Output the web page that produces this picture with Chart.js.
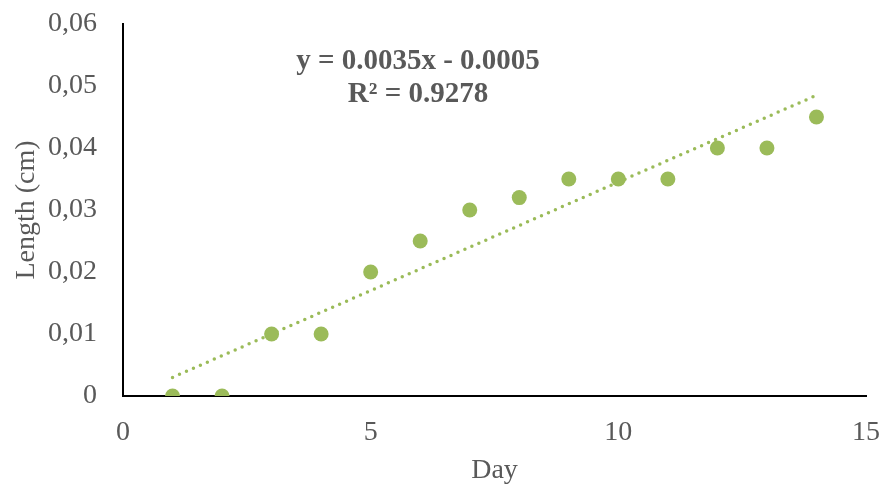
<!DOCTYPE html>
<html>
<head>
<meta charset="utf-8">
<script src="https://cdn.jsdelivr.net/npm/chart.js@4"></script>
<style>
  html, body { margin: 0; padding: 0; background: #fff; }
  #wrap { width: 882px; height: 487px; }
</style>
</head>
<body>
<div id="wrap"><canvas id="canvas"></canvas></div>
<script>
const days = [1, 2, 3, 4, 5, 6, 7, 8, 9, 10, 11, 12, 13, 14];
const lengths = [0, 0, 0.01, 0.01, 0.02, 0.025, 0.03, 0.032, 0.035, 0.035, 0.035, 0.04, 0.04, 0.045];
const trendSlope = 0.0035;
const trendIntercept = -0.0005;
const equationLines = ['y = 0.0035x - 0.0005', 'R² = 0.9278'];

const green = '#9BBB59';
const grey = '#595959';
const serif = "'Liberation Serif', 'Times New Roman', serif";

const trendX = [days[0], days[days.length - 1]];

const equationLabel = {
  id: 'equationLabel',
  afterDraw(chart) {
    const ctx = chart.ctx;
    ctx.save();
    ctx.font = 'bold 29px ' + serif;
    ctx.fillStyle = grey;
    ctx.textAlign = 'center';
    ctx.textBaseline = 'middle';
    ctx.fillText(equationLines[0], 418, 62);
    ctx.fillText(equationLines[1], 418, 95);
    ctx.restore();
  },
};

new Chart(document.getElementById('canvas'), {
  type: 'scatter',
  data: {
    datasets: [
      {
        label: 'Length',
        data: days.map((d, i) => ({ x: d, y: lengths[i] })),
        backgroundColor: green,
        borderWidth: 0,
        pointRadius: 7.5,
        order: 1,
      },
      {
        label: 'Trend',
        type: 'line',
        data: trendX.map((x) => ({ x: x, y: trendSlope * x + trendIntercept })),
        borderColor: green,
        borderWidth: 3.5,
        borderDash: [0, 7.6],
        borderCapStyle: 'round',
        pointRadius: 0,
        fill: false,
        order: 2,
      },
    ],
  },
  options: {
    responsive: true,
    maintainAspectRatio: false,
    animation: false,
    layout: { padding: { top: 24, right: 16, left: 0, bottom: 0 } },
    plugins: {
      legend: { display: false },
      tooltip: { enabled: false },
    },
    scales: {
      x: {
        type: 'linear',
        min: 0,
        max: 15,
        ticks: {
          stepSize: 5,
          color: grey,
          padding: 20,
          font: { family: serif, size: 28 },
        },
        grid: { display: false, drawTicks: false },
        border: { display: true, color: '#000', width: 2 },
        title: {
          display: true,
          text: 'Day',
          color: grey,
          font: { family: serif, size: 28 },
          padding: { top: 2, bottom: 0 },
        },
        afterFit(scale) {
          scale.height = 91;
          scale.paddingLeft = 0;
          scale.paddingRight = 0;
        },
      },
      y: {
        min: 0,
        max: 0.06,
        ticks: {
          stepSize: 0.01,
          color: grey,
          padding: 26,
          font: { family: serif, size: 28 },
          callback: (v) => (v === 0 ? '0' : v.toFixed(2).replace('.', ',')),
        },
        grid: { display: false, drawTicks: false },
        border: { display: true, color: '#000', width: 2 },
        title: {
          display: true,
          text: 'Length (cm)',
          color: grey,
          font: { family: serif, size: 28 },
          padding: { top: 10, bottom: 0 },
        },
        afterFit(scale) {
          scale.width = 123;
          scale.paddingTop = 0;
          scale.paddingBottom = 0;
        },
      },
    },
  },
  plugins: [equationLabel],
});
</script>
</body>
</html>
